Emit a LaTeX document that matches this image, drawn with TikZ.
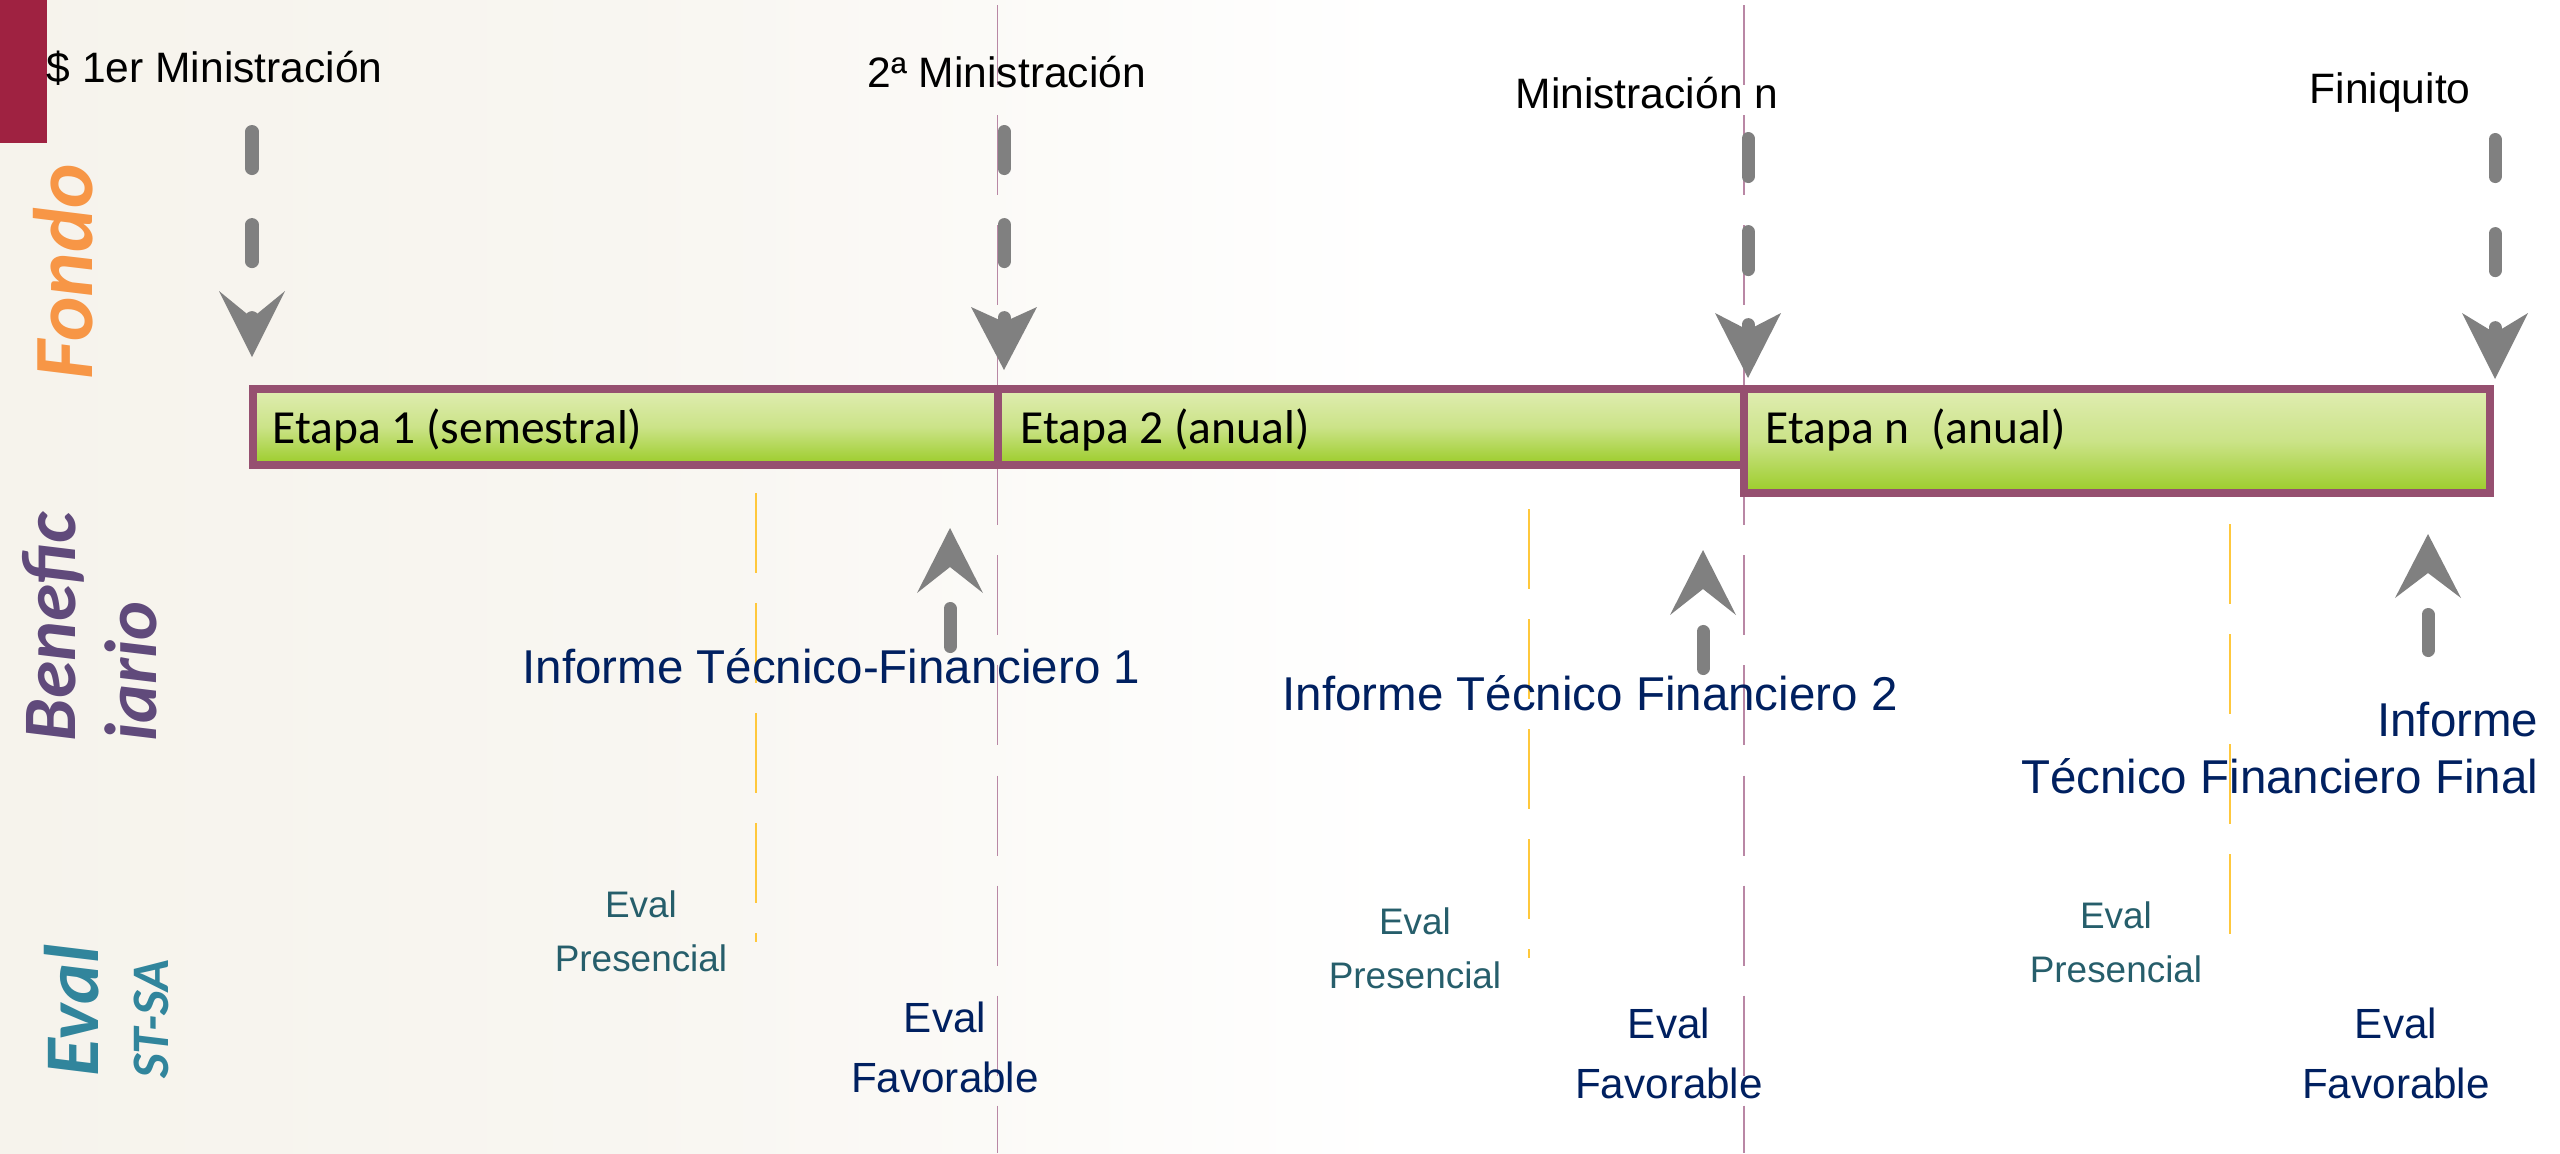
\documentclass[tikz,border=0pt]{standalone}
\usepackage{fontspec}
\setmainfont{Liberation Sans}
\newfontfamily\calibri{Carlito}
\definecolor{crimson}{RGB}{159,34,65}
\definecolor{fondoorange}{RGB}{247,150,70}
\definecolor{benefpurple}{RGB}{96,74,123}
\definecolor{evalteal}{RGB}{49,133,156}
\definecolor{navytext}{RGB}{0,32,96}
\definecolor{presteal}{RGB}{38,94,107}
\definecolor{barborder}{RGB}{150,80,112}
\definecolor{bartop}{RGB}{224,237,178}
\definecolor{barmid}{RGB}{203,227,136}
\definecolor{barbot}{RGB}{155,204,40}
\definecolor{arrowgrey}{RGB}{128,128,128}
\definecolor{mauveline}{RGB}{185,135,165}
\definecolor{goldline}{RGB}{255,200,60}
\definecolor{bgbeige}{RGB}{246,243,236}
\tikzset{
  shaft/.style={draw=arrowgrey, line width=3.7pt, line cap=round},
  headfill/.style={fill=arrowgrey},
  stagebar/.style={draw=barborder, line width=2.28pt, top color=bartop, bottom color=barbot, middle color=barmid},
  stagetext/.style={font=\calibri\fontsize{13.5}{16}\selectfont, anchor=base west, inner sep=0pt},
  ministxt/.style={font=\fontsize{12.1}{14}\selectfont, anchor=base west, inner sep=0pt},
  informetxt/.style={font=\fontsize{13.5}{16.2}\selectfont, text=navytext, inner sep=0pt},
  presencial/.style={font=\fontsize{10.5}{15.4}\selectfont, text=presteal, align=center, inner sep=0pt},
  favorable/.style={font=\fontsize{12}{17.1}\selectfont, text=navytext, align=center, inner sep=0pt},
  sidelabel/.style={rotate=90, anchor=base west, inner sep=0pt},
  timeline/.style={draw=mauveline, line width=0.45pt, dash pattern=on 22.76pt off 8.54pt},
  evalline/.style={draw=goldline, line width=0.5pt, dash pattern=on 22.76pt off 8.54pt},
}
\newcommand\FundArrow[8]{%
  \coordinate (#1s) at (#2,#3);
  \coordinate (#1n) at (#2,#4);
  \coordinate (#1t) at (#2,#6);
  \coordinate (#1l) at ({#2-33},#5);
  \coordinate (#1r) at ({#2+33},#5);
  \draw[shaft, dash pattern=on #7 off #8] (#1s) -- (#1n);
  \fill[headfill] (#1l) -- (#1t) -- (#1r) -- (#1n) -- cycle;
}
\begin{document}
\begin{tikzpicture}[x=0.01cm, y=-0.01cm]
\useasboundingbox (0,0) rectangle (2560,1153);
% background
\fill[white] (0,0) rectangle (2560,1153);
\shade[left color=bgbeige, right color=white, middle color=bgbeige!70!white] (0,0) rectangle (1400,1153);
\fill[crimson] (0,0) rectangle (47,143);

% vertical guide lines
\coordinate (tlAtop) at (997.5,5);
\coordinate (tlAbot) at (997.5,1153);
\coordinate (tlBtop) at (1744,5);
\coordinate (tlBbot) at (1744,1153);
\draw[timeline] (tlAtop) -- (tlAbot);
\draw[timeline] (tlBtop) -- (tlBbot);
\coordinate (ylAtop) at (756,493);
\coordinate (ylAbot) at (756,942);
\coordinate (ylBtop) at (1529,509);
\coordinate (ylBbot) at (1529,958);
\coordinate (ylCtop) at (2230,524);
\coordinate (ylCbot) at (2230,964);
\draw[evalline] (ylAtop) -- (ylAbot);
\draw[evalline] (ylBtop) -- (ylBbot);
\draw[evalline] (ylCtop) -- (ylCbot);

% stage bars
\draw[stagebar] (253,389) rectangle (997.5,465);
\draw[stagebar] (997.5,389) rectangle (1744,465);
\draw[stagebar] (1744,389) rectangle (2490,493);
\node[stagetext] (e1) at (272,443) {Etapa 1 (semestral)};
\node[stagetext] (e2) at (1020,443) {Etapa 2 (anual)};
\node[stagetext] (e3) at (1765,443) {Etapa n\ \ (anual)};

% arrows
\FundArrow{aA}{252}{131.5}{318}{291}{357}{10.53pt}{15.93pt}
\FundArrow{aB}{1004}{131.5}{322}{307}{370}{10.53pt}{15.93pt}
\FundArrow{aC}{1748}{138.5}{330}{313}{378}{10.81pt}{15.65pt}
\FundArrow{aD}{2495}{139.5}{333}{313}{379}{10.53pt}{16.22pt}
\FundArrow{uA}{950}{646.5}{567}{593}{528}{10.81pt}{15.93pt}
\FundArrow{uB}{1703}{668.5}{589}{615}{550}{10.53pt}{15.93pt}
\FundArrow{uC}{2428}{650.5}{573}{598}{534}{10.24pt}{15.93pt}

% top labels
\node[ministxt] (m1) at (46,82) {\$ 1er Ministración};
\node[ministxt] (m2) at (867,87) {2ª Ministración};
\node[ministxt] (m3) at (1515,108) {Ministración n};
\node[ministxt] (m4) at (2309,103) {Finiquito};

% informe labels
\node[informetxt, anchor=base west] (i1) at (522,683) {Informe Técnico-Financiero 1};
\node[informetxt, anchor=base west] (i2) at (1282,710) {Informe Técnico Financiero 2};
\node[informetxt, anchor=east, align=right] (i3) at (2539,748) {Informe\\Técnico Financiero Final};

% evaluation labels
\node[presencial] (p1) at (641,931.5) {Eval\\Presencial};
\node[presencial] (p2) at (1415,948) {Eval\\Presencial};
\node[presencial] (p3) at (2116,942) {Eval\\Presencial};
\node[favorable] (f1) at (945,1047.5) {Eval\\Favorable};
\node[favorable] (f2) at (1669,1053) {Eval\\Favorable};
\node[favorable] (f3) at (2396,1053) {Eval\\Favorable};

% side labels
\node[sidelabel, text=fondoorange, font=\calibri\bfseries\itshape\fontsize{24}{28}\selectfont] (fondo) at (92,380) {Fondo};
\node[sidelabel, text=benefpurple, font=\calibri\bfseries\itshape\fontsize{21.5}{24}\selectfont] (benA) at (75,742) {Benefic};
\node[sidelabel, text=benefpurple, font=\calibri\bfseries\itshape\fontsize{21}{24}\selectfont] (benB) at (156,742) {iario};
\node[sidelabel, text=evalteal, font=\calibri\bfseries\itshape\fontsize{22}{26}\selectfont] (evalA) at (98,1077) {Eval};
\node[sidelabel, text=evalteal, font=\calibri\bfseries\itshape\fontsize{15}{18}\selectfont] (evalB) at (168,1079) {ST-SA};
\end{tikzpicture}
\end{document}
